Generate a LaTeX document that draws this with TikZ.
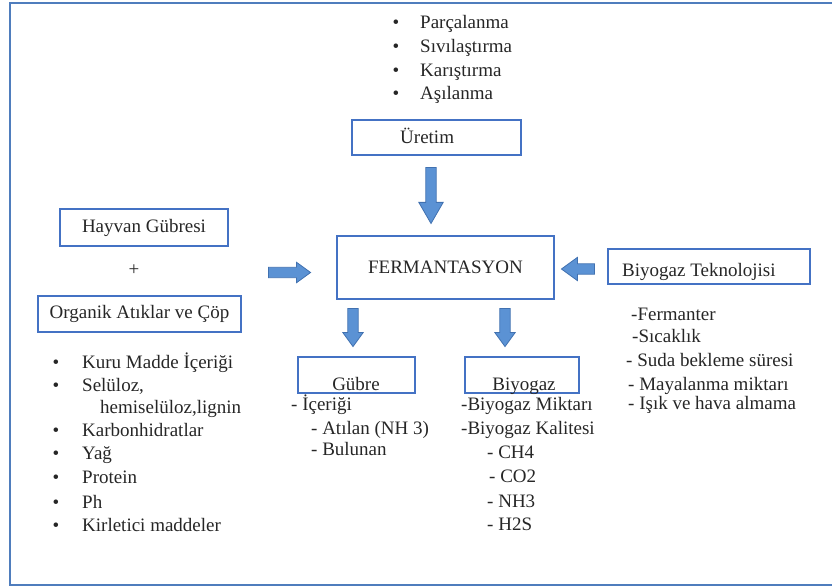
\documentclass[tikz,border=0pt]{standalone}
\usepackage{fontspec}
\setmainfont{Liberation Serif}
\usetikzlibrary{shapes.arrows}
\definecolor{boxblue}{RGB}{68,114,196}
\definecolor{frameblue}{RGB}{79,125,189}
\definecolor{arrfill}{RGB}{91,146,212}
\definecolor{arrline}{RGB}{65,113,176}
\definecolor{textgray}{RGB}{38,38,38}
\tikzset{
  box/.style={draw=boxblue, line width=1.2pt, inner sep=0pt, text=textgray},
  txt/.style={anchor=base west, inner sep=0pt, text=textgray},
  ctxt/.style={anchor=base, inner sep=0pt, text=textgray},
  bul/.style={anchor=base, inner sep=0pt, text=textgray},
  barrow/.style={single arrow, draw=arrline, fill=arrfill, line width=0.8pt,
    inner xsep=0pt, inner ysep=4.8pt, single arrow head extend=5pt,
    single arrow tip angle=72},
}
\begin{document}
\begin{tikzpicture}[x=1pt,y=-1pt,font=\fontsize{19}{24}\selectfont]
\useasboundingbox (0,0) rectangle (832,588);
\clip (0,0) rectangle (832,588);
% frame
\draw[frameblue, line width=2pt] (10,3.5) rectangle (860,585);

% top bullet list
\foreach \t/\yy [count=\i] in {Parçalanma/23,Sıvılaştırma/47,Karıştırma/71,Aşılanma/94}{
  \node[bul] (tb\i) at (396,\yy+6) {•};
  \node[txt] (tt\i) at (420,\yy+6) {\t};
}

% Uretim
\node[box, minimum width=169pt, minimum height=35pt] (uretimbox) at (436.5,137.5) {};
\node[txt] (uretim) at (400,143.5) {Üretim};
\node[barrow, rotate=-90, minimum height=56pt, single arrow head extend=7pt, single arrow tip angle=60] (arrU) at (431,191) {};

% left inputs
\node[box, minimum width=168pt, minimum height=37pt] (hayvan) at (144,227.5) {Hayvan Gübresi};
\node[ctxt] (plus) at (134,275) {+};
\node[box, minimum width=203pt, minimum height=36pt] (organik) at (139.5,314) {Organik Atıklar ve Çöp};
\node[barrow, minimum height=42pt] (arrIn) at (286,272.5) {};

% fermantasyon
\node[box, minimum width=217pt, minimum height=63pt] (ferm) at (445.5,267.5) {FERMANTASYON};

% biyogaz teknolojisi
\node[box, minimum width=202pt, minimum height=35pt] (teknobox) at (709,266.5) {};
\node[txt] (tekno) at (622,276) {Biyogaz Teknolojisi};
\node[barrow, rotate=180, minimum height=33pt, single arrow head extend=6.5pt] (arrTek) at (581.5,269) {};

% down arrows
\node[barrow, rotate=-90, minimum height=38pt] (arrG) at (353,324) {};
\node[barrow, rotate=-90, minimum height=38pt] (arrB) at (505,324) {};

% Gubre / Biyogaz boxes
\node[box, minimum width=117pt, minimum height=36pt] (gubrebox) at (356.5,375) {};
\node[ctxt] (gubre) at (356,390) {Gübre};
\node[box, minimum width=114pt, minimum height=36pt] (biyobox) at (522,375) {};
\node[ctxt] (biyo) at (524,390) {Biyogaz};

% Gubre list
\node[txt] (g1) at (291,410.5) {- İçeriği};
\node[txt] (g2) at (311,434.5) {- Atılan (NH 3)};
\node[txt] (g3) at (311,455.5) {- Bulunan};

% Biyogaz list
\node[txt] (bl1) at (461,410.5) {-Biyogaz Miktarı};
\node[txt] (bl2) at (461,434.5) {-Biyogaz Kalitesi};
\node[txt] (bl3) at (487,458) {- CH4};
\node[txt] (bl4) at (489,482.5) {- CO2};
\node[txt] (bl5) at (487,507) {- NH3};
\node[txt] (bl6) at (487,530.5) {- H2S};

% right list
\node[txt] (r1) at (631,320.5) {-Fermanter};
\node[txt] (r2) at (632,342.5) {-Sıcaklık};
\node[txt] (r3) at (626,366.5) {- Suda bekleme süresi};
\node[txt] (r4) at (628,390.5) {- Mayalanma miktarı};
\node[txt] (r5) at (628,409.5) {- Işık ve hava almama};

% left bullet list
\foreach \t/\yy [count=\i] in {Kuru Madde İçeriği/362,{Selüloz,}/385,Karbonhidratlar/430,Yağ/453,Protein/477,Ph/502,Kirletici maddeler/525}{
  \node[bul] (lb\i) at (56,\yy+6) {•};
  \node[txt] (lt\i) at (82,\yy+6) {\t};
}
\node[txt] (lt2b) at (100,413) {hemiselüloz,lignin};
\end{tikzpicture}
\end{document}
